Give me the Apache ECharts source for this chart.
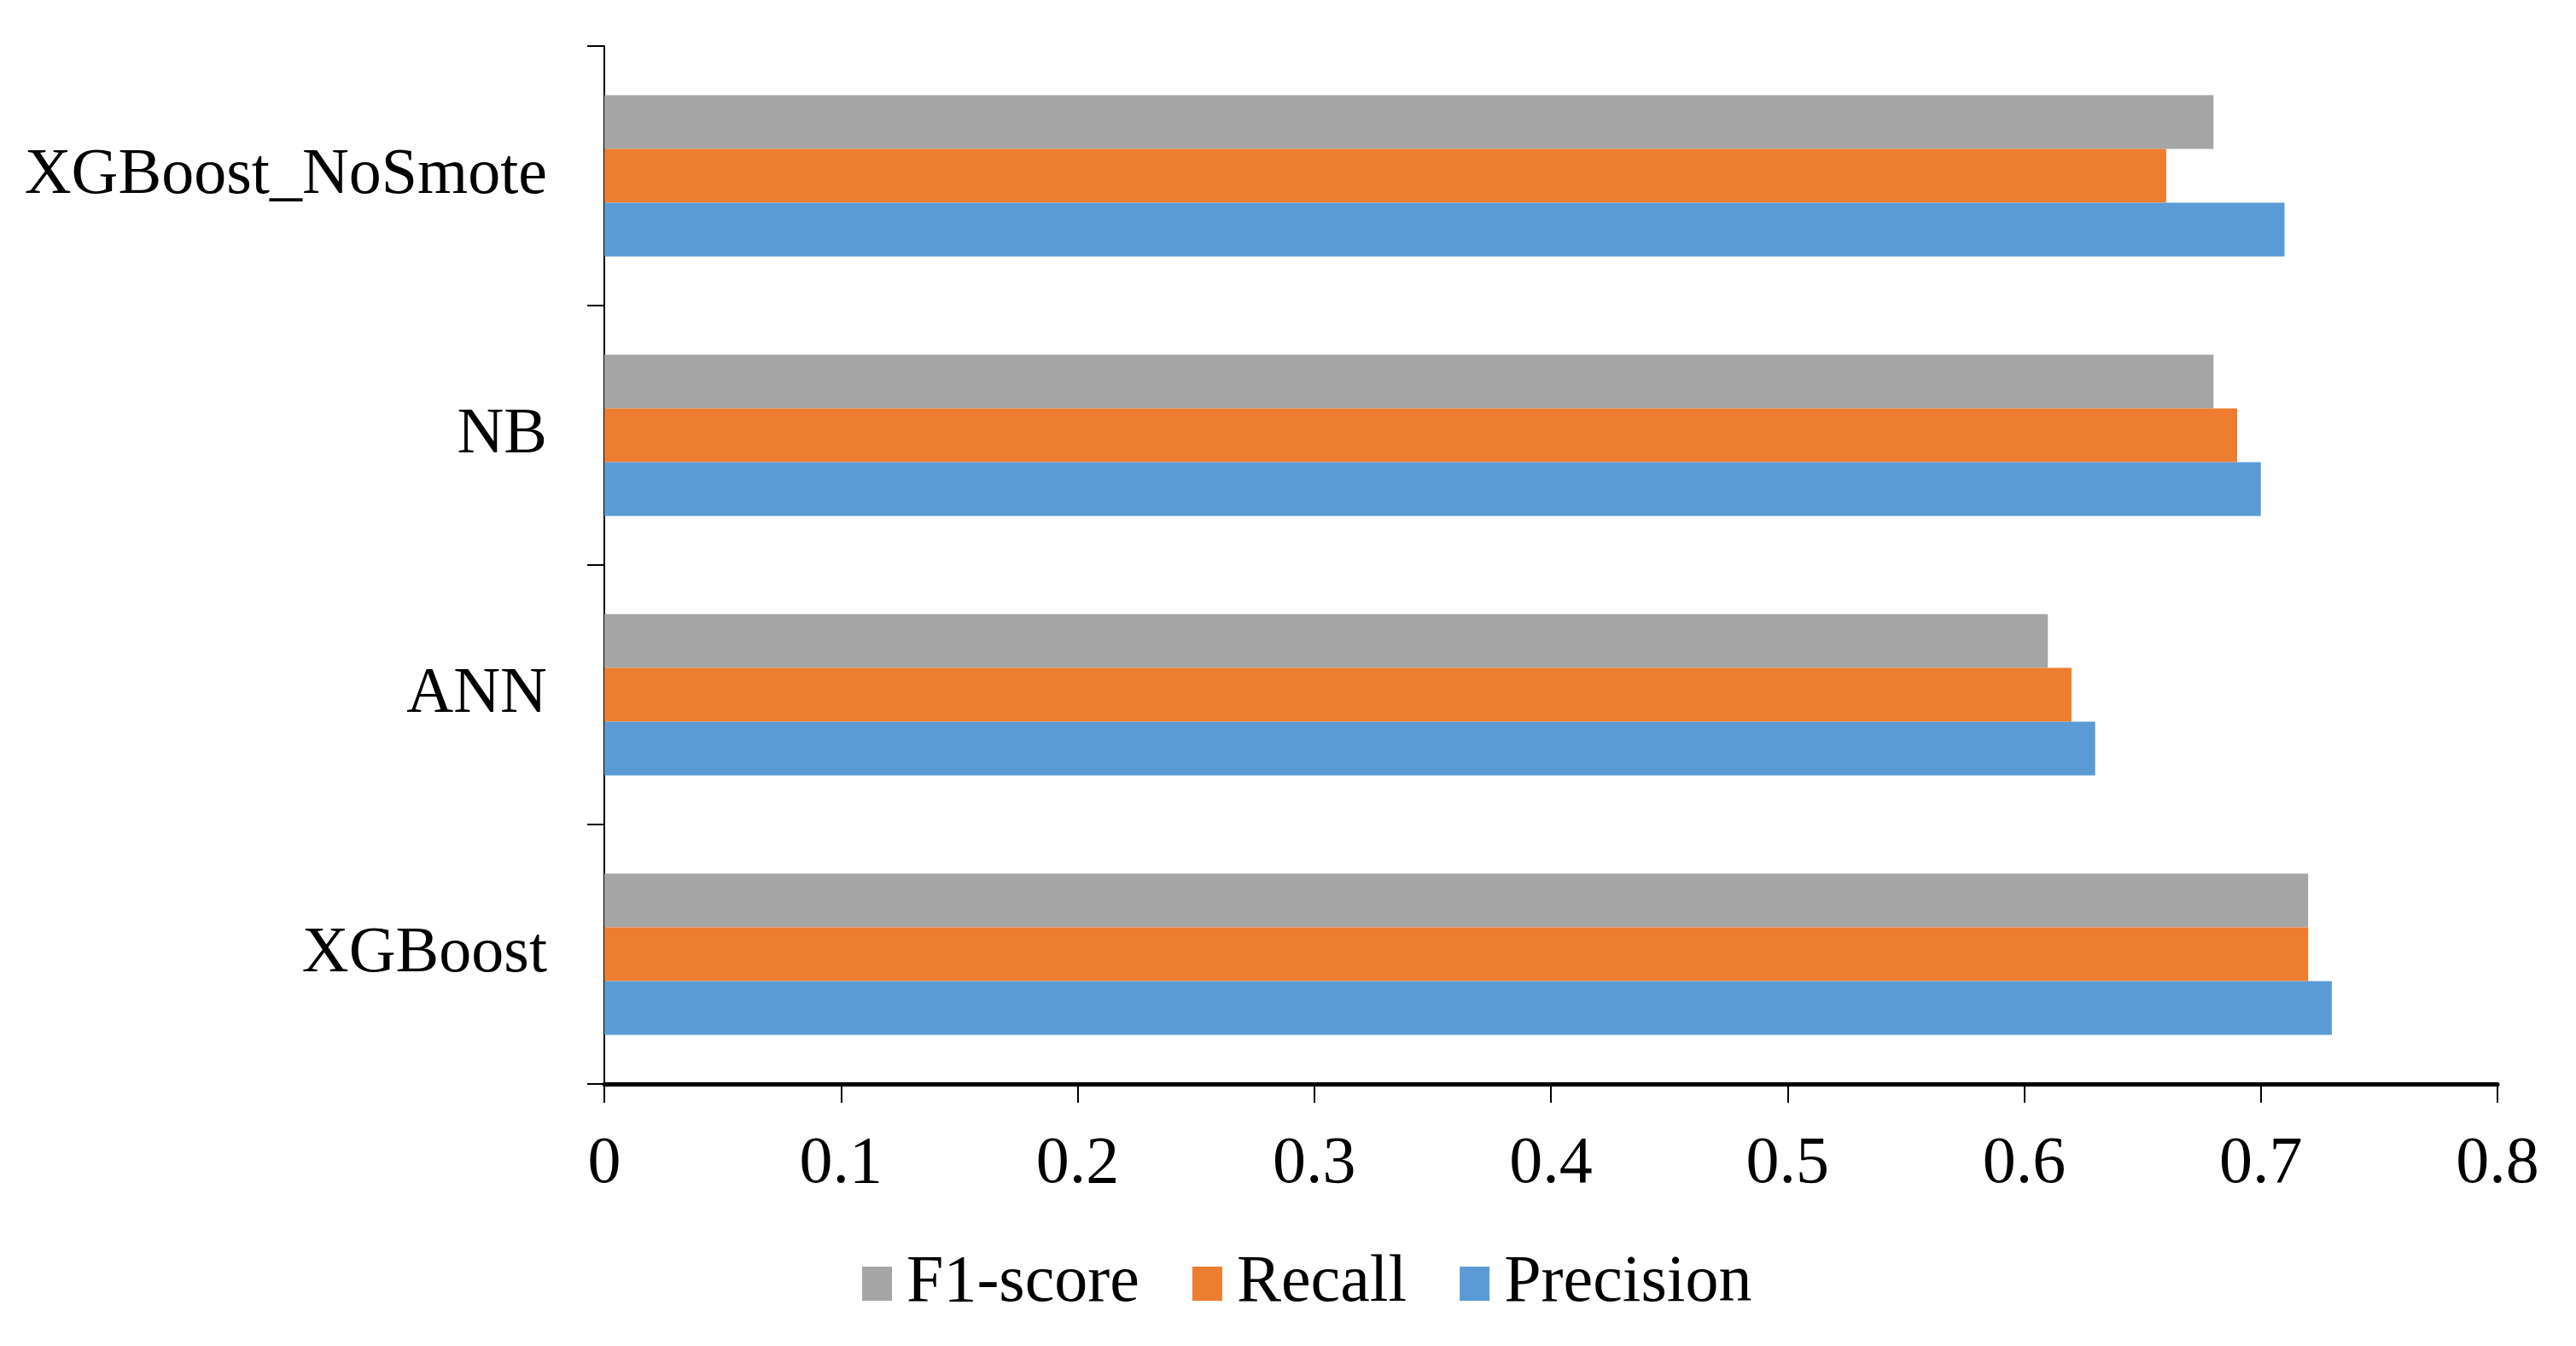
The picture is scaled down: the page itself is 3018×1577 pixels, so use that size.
<!DOCTYPE html>
<html>
<head>
<meta charset="utf-8">
<script src="https://cdn.jsdelivr.net/npm/echarts@6/dist/echarts.min.js"></script>
<style>html,body{margin:0;padding:0;background:#fff}#c{width:3018px;height:1577px}</style>
</head>
<body>
<div id="c"></div>
<script>
const categories = ['XGBoost', 'ANN', 'NB', 'XGBoost_NoSmote'];
const seriesNames = ['F1-score', 'Recall', 'Precision'];
const f1Values = [0.72, 0.61, 0.68, 0.68];
const recallValues = [0.72, 0.62, 0.69, 0.66];
const precisionValues = [0.73, 0.63, 0.70, 0.71];
const xTicks = [0, 0.1, 0.2, 0.3, 0.4, 0.5, 0.6, 0.7, 0.8];

const colors = ['#A5A5A5', '#ED7D31', '#5B9BD5'];
const FONT = 'Liberation Serif';
const chart = echarts.init(document.getElementById('c'));
const values = [f1Values, recallValues, precisionValues];
chart.setOption({
  animation: false,
  backgroundColor: '#fff',
  grid: { left: 708, right: 92, top: 54, bottom: 307, containLabel: false },
  legend: {
    data: seriesNames,
    left: 1005, top: 1460,
    itemWidth: 35, itemHeight: 40, itemGap: 62,
    icon: 'rect',
    textStyle: { fontFamily: FONT, fontSize: 78, color: '#000', padding: [0, 0, 0, 12] }
  },
  xAxis: {
    type: 'value', min: xTicks[0], max: xTicks[xTicks.length - 1], interval: 0.1,
    axisLine: { show: true, lineStyle: { color: '#000', width: 5 } },
    axisTick: { show: true, length: 22, lineStyle: { color: '#000', width: 2 } },
    axisLabel: { fontFamily: FONT, fontSize: 78, color: '#000', margin: 56,
      formatter: v => String(Math.round(v * 10) / 10) },
    splitLine: { show: false }
  },
  yAxis: {
    type: 'category', data: categories,
    axisLine: { show: true, lineStyle: { color: '#000', width: 2 } },
    axisTick: { show: true, length: 20, lineStyle: { color: '#000', width: 2 } },
    axisLabel: { fontFamily: FONT, fontSize: 76, color: '#000', margin: 67 }
  },
  series: seriesNames.map((n, i) => ({
    name: n, type: 'bar', data: values[i],
    itemStyle: { color: colors[i] },
    barWidth: 63, barGap: '0%'
  }))
});
</script>
</body>
</html>
